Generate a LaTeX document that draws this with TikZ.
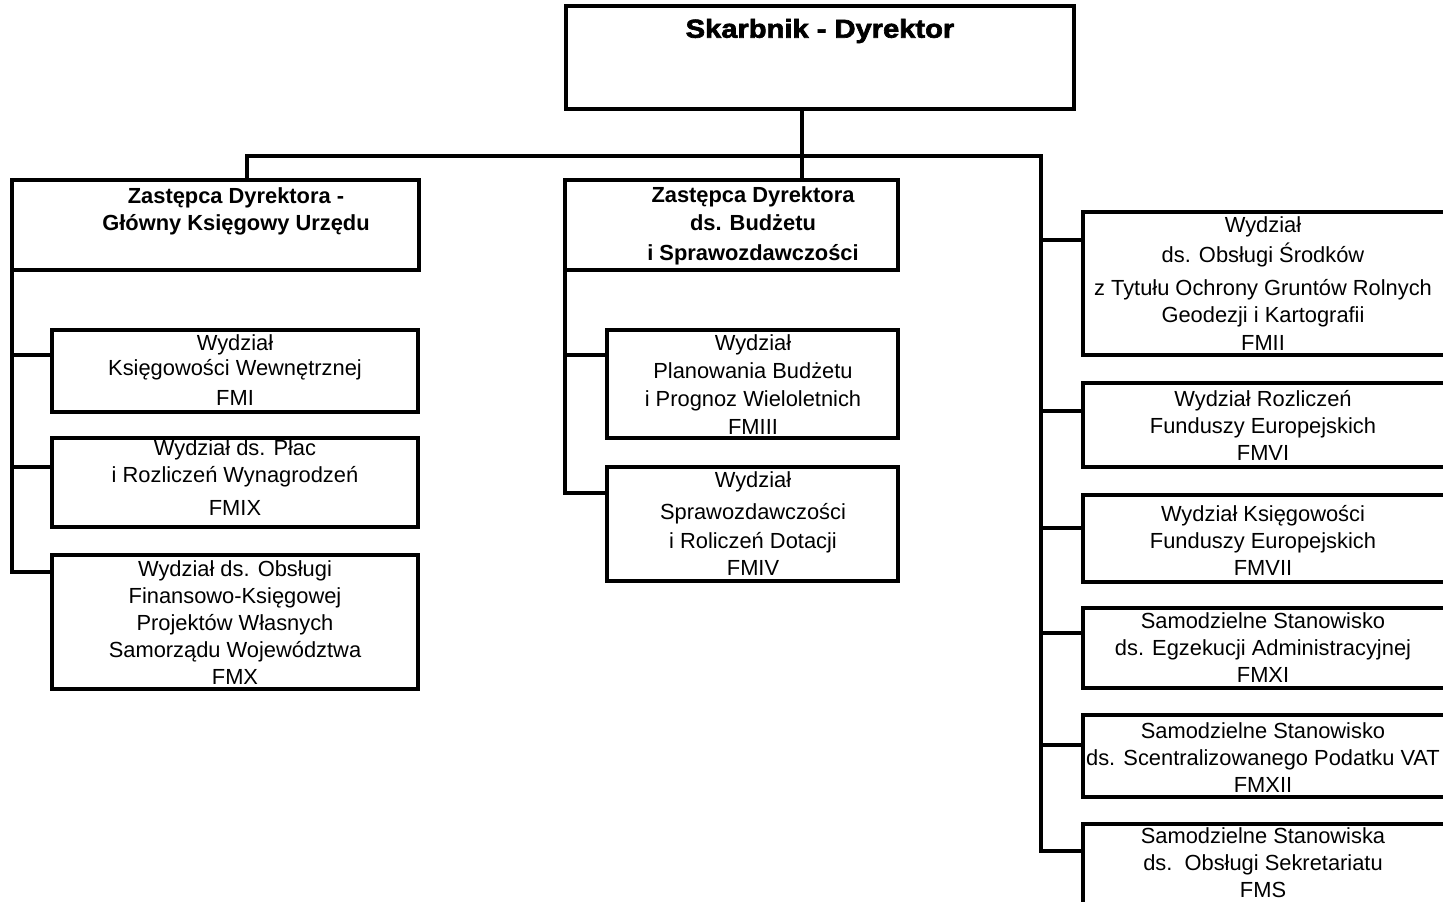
\documentclass[tikz,border=0pt]{standalone}
\usepackage{fontspec}
\setmainfont{Liberation Sans}
\newfontfamily\blackfont[FakeStretch=1.12,FakeBold=2.5]{Liberation Sans}
\usetikzlibrary{calc}
\tikzset{
  box/.style={draw, line width=2.5pt, anchor=north west, inner sep=0pt, outer sep=0pt},
  conn/.style={draw, line width=2.5pt},
  txt/.style={align=center, inner sep=0pt, font=\fontsize{16.4}{20.25}\selectfont},
  btxt/.style={align=center, inner sep=0pt, font=\fontsize{16.4}{20.25}\selectfont\bfseries},
  ttl/.style={inner sep=0pt, font=\blackfont\fontsize{19.5}{22}\selectfont\bfseries},
}
\newcommand\pbox[5]{\node[box, minimum width=#4*0.75pt, minimum height=#5*0.75pt] (#1) at (#2,#3) {};}
\begin{document}
\begin{tikzpicture}[x=0.75pt,y=-0.75pt]
\useasboundingbox (0,0) rectangle (1443,902);
\clip (0,0) rectangle (1443,902);
% boxes
\pbox{top}{566}{6}{508}{103}
\pbox{dl}{12}{180}{407}{90}
\pbox{dm}{565}{180}{333}{90}
\pbox{fmi}{52}{330}{366}{82}
\pbox{fmix}{52}{438}{366}{89}
\pbox{fmx}{52}{555}{366}{134}
\pbox{fmiii}{607}{330}{291}{108}
\pbox{fmiv}{607}{467}{291}{114}
\pbox{fmii}{1083}{212}{365}{143}
\pbox{fmvi}{1083}{383}{365}{84}
\pbox{fmvii}{1083}{495}{365}{87}
\pbox{fmxi}{1083}{608}{365}{80}
\pbox{fmxii}{1083}{715}{365}{82}
\pbox{fms}{1083}{824}{365}{140}
% connectors
\coordinate (busL) at (247,156);
\coordinate (busR) at (1041,156);
\coordinate (busM) at (802,109);
\coordinate (rEnd) at (1041,851);
\draw[conn] (busM) -- (busM |- dm.north);
\draw[conn] (dl.north -| busL) |- (busR) -- (rEnd) -- (rEnd -| fms.west);
\foreach \b/\d in {fmii/28, fmvi/28, fmvii/33, fmxi/25, fmxii/30}
  \draw[conn] (\b.north west) ++(0,\d) coordinate (t) -- (t -| busR);
% left tree
\draw[conn] (fmx.north west) ++(0,17) coordinate (t) -- (t -| dl.west) -- (dl.south west);
\draw[conn] (fmi.north west) ++(0,25) coordinate (t) -- (t -| dl.west);
\draw[conn] (fmix.north west) ++(0,29) coordinate (t) -- (t -| dl.west);
% middle tree
\draw[conn] (fmiv.north west) ++(0,26) coordinate (t) -- (t -| dm.west) -- (dm.south west);
\draw[conn] (fmiii.north west) ++(0,25) coordinate (t) -- (t -| dm.west);
% texts
\node[ttl] (ttop) at (820,31) {Skarbnik - Dyrektor};
\node[btxt] (tdl) at (236,211.5) {Zastępca Dyrektora -\\Główny Księgowy Urzędu};
\node[btxt] (tdm) at (753,226) {Zastępca Dyrektora\\[0.75pt]ds. Budżetu\\[2.25pt]i Sprawozdawczości};
\node[txt] (tfmi) at (235,370.5) {Wydział\\[-1.5pt]Księgowości Wewnętrznej\\[2.25pt]FMI};
\node[txt] (tfmix) at (235,478) {Wydział ds. Płac\\i Rozliczeń Wynagrodzeń\\[4.5pt]FMIX};
\node[txt] (tfmx) at (235,622.5) {Wydział ds. Obsługi\\Finansowo-Księgowej\\Projektów Własnych\\Samorządu Województwa\\FMX};
\node[txt] (tfmiii) at (753,385) {Wydział\\[0.75pt]Planowania Budżetu\\[0.75pt]i Prognoz Wieloletnich\\[0.75pt]FMIII};
\node[txt] (tfmiv) at (753,524) {Wydział\\[3.75pt]Sprawozdawczości\\[1.5pt]i Roliczeń Dotacji\\FMIV};
\node[txt] (tfmii) at (1263,284) {Wydział\\[2.25pt]ds. Obsługi Środków\\[4.5pt]z Tytułu Ochrony Gruntów Rolnych\\Geodezji i Kartografii\\[0.75pt]FMII};
\node[txt] (tfmvi) at (1263,425) {Wydział Rozliczeń\\Funduszy Europejskich\\FMVI};
\node[txt] (tfmvii) at (1263,540) {Wydział Księgowości\\Funduszy Europejskich\\FMVII};
\node[txt] (tfmxi) at (1263,648) {Samodzielne Stanowisko\\ds. Egzekucji Administracyjnej\\FMXI};
\node[txt] (tfmxii) at (1263,758) {Samodzielne Stanowisko\\ds. Scentralizowanego Podatku VAT\\FMXII};
\node[txt] (tfms) at (1263,863) {Samodzielne Stanowiska\\ds.\ \ Obsługi Sekretariatu\\FMS};
\end{tikzpicture}
\end{document}
